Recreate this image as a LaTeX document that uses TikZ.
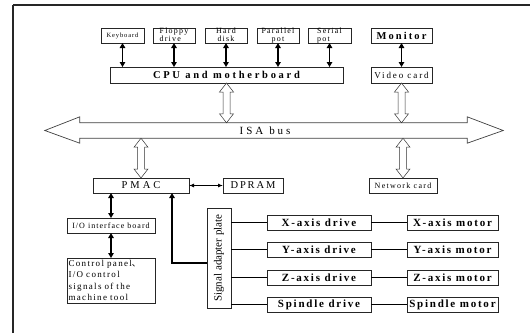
\documentclass[tikz,border=0pt]{standalone}
\usepackage{fontspec}
\setmainfont{Liberation Serif}
\newfontfamily\cjk{Noto Sans CJK SC}
\usetikzlibrary{arrows.meta,calc}
\newcommand\fs[3]{\fontsize{#1}{#2}\selectfont\addfontfeatures{LetterSpace=#3}}
\newcommand\twol[4]{\raisebox{#1}[0pt][0pt]{\begin{tabular}{@{}#2@{}}#3\\#4\end{tabular}}}
\newcommand\hollowarrow[2]{\draw[hollowline] let \p1=#1, \p2=#2 in
  (\x1,\y1) -- ++(-7pt,-9pt) -- ++(3.5pt,0pt) -- (\x1-3.5pt,\y2+9pt) -- ++(-3.5pt,0pt)
  -- (\x1,\y2) -- ++(7pt,9pt) -- ++(-3.5pt,0pt) -- (\x1+3.5pt,\y1-9pt) -- ++(3.5pt,0pt) -- cycle;}
\begin{document}
\begin{tikzpicture}[x=1pt,y=-1pt,
  box/.style={draw=black!85, line width=0.6pt, inner sep=0pt, outer sep=0pt, fill=white, anchor=north west},
  tarrow/.style={line width=1.6pt, black, {Triangle[length=5pt,width=5.5pt]}-{Triangle[length=5pt,width=5.5pt]}},
  thinarrow/.style={line width=0.9pt, black, {Latex[length=5pt,width=4pt]}-{Latex[length=5pt,width=4pt]}},
  hollowline/.style={draw=black!80, line width=0.5pt, fill=white},
  busline/.style={draw=black!75, line width=0.7pt, fill=white},
  dline/.style={line width=1.3pt, black},
  small/.style={font=\fs{8}{8.5}{15}},
  drv/.style={font=\bfseries\fs{11}{13}{16}}
]
\useasboundingbox (0,0) rectangle (530,333);
% frame
\draw[line width=1.3pt, black!85] (13,333) -- (13,5);
\draw[line width=1.8pt, black!85] (13,5) -- (530,5);

% top row
\node[box, minimum width=43, minimum height=15] (kb) at (101,28) {\fs{6.5}{7}{14}Keyboard};
\node[box, minimum width=42, minimum height=15, small] (fd) at (153,28) {\twol{-2.5pt}{l}{Floppy}{drive}};
\node[box, minimum width=42, minimum height=15, small] (hd) at (205,28) {\twol{-2.5pt}{c}{Hard}{disk}};
\node[box, minimum width=42, minimum height=15, small] (pp) at (257,28) {\twol{-2.5pt}{c}{Parallel}{pot}};
\node[box, minimum width=43, minimum height=15, small] (sp) at (308,28) {\twol{-2.5pt}{l}{Serial}{pot}};
\node[box, minimum width=61, minimum height=15] (mon) at (371,28) {\bfseries\fs{10.5}{12}{20}Monitor};

\node[box, minimum width=233, minimum height=16] (cpu) at (110,67) {\bfseries\fs{10.5}{12}{26}CPU and motherboard};
\node[box, minimum width=61, minimum height=16] (vc) at (371,67) {\fs{9}{11}{21}Video card};

% bus
\node[minimum width=387, minimum height=15, inner sep=0pt] (bus) at (273.5,130.5) {};
\draw[busline] ($(bus.west)+(-35,0)$) -- ($(bus.north west)+(0,-6)$) -- (bus.north west)
  -- (bus.north east) -- ($(bus.north east)+(0,-6)$) -- ($(bus.east)+(36,0)$)
  -- ($(bus.south east)+(0,5)$) -- (bus.south east) -- (bus.south west)
  -- ($(bus.south west)+(0,5)$) -- cycle;
\node[inner sep=0pt] (bustext) at (bus.center) {\fs{11}{13}{26}I\hspace{3pt}S\hspace{3pt}A\hspace{6pt}bus\hspace*{17pt}};

% middle row
\node[box, minimum width=96, minimum height=15] (pmac) at (93,178) {\fs{10.5}{12}{28}PMAC};
\node[box, minimum width=60, minimum height=15] (dpram) at (223,178) {\fs{10.5}{12}{18}DPRAM};
\node[box, minimum width=68, minimum height=15] (nc) at (369,178) {\fs{8}{9}{16}Network card};

\node[box, minimum width=88, minimum height=15] (io) at (67,218) {\fs{8}{9}{13}I/O interface board};
\node[box, minimum width=88, minimum height=45, text width=85, inner xsep=1.5pt, inner ysep=1pt, align=left, font=\fs{9}{11.5}{15}] (cp) at (67,258)
  {Control panel{\cjk 、}\\I/O control\\signals of the\\machine tool};

\node[box, minimum width=24, minimum height=100] (sap) at (207,208) {\rotatebox{90}{\fs{11}{13}{0}Signal adapter plate}};

% drives and motors
\node[box, minimum width=104, minimum height=15, drv] (xd) at (267,215) {X-axis drive};
\node[box, minimum width=104, minimum height=15, drv] (yd) at (267,242) {Y-axis drive};
\node[box, minimum width=104, minimum height=15, drv] (zd) at (267,270) {Z-axis drive};
\node[box, minimum width=104, minimum height=15, drv] (sd) at (267,297) {Spindle drive};
\node[box, minimum width=91, minimum height=15, drv] (xm) at (407,215) {X-axis motor};
\node[box, minimum width=91, minimum height=15, drv] (ym) at (407,242) {Y-axis motor};
\node[box, minimum width=91, minimum height=15, drv] (zm) at (407,270) {Z-axis motor};
\node[box, minimum width=91, minimum height=15, drv] (sm) at (407,297) {Spindle motor};

% arrows top
\draw[tarrow] (kb.south) -- (kb.south |- cpu.north);
\draw[tarrow] (fd.south) -- (fd.south |- cpu.north);
\draw[tarrow] (hd.south) -- (hd.south |- cpu.north);
\draw[tarrow] (pp.south) -- (pp.south |- cpu.north);
\draw[tarrow] (sp.south) -- (sp.south |- cpu.north);
\draw[tarrow] (mon.south) -- (vc.north);

% hollow arrows
\hollowarrow{(cpu.south)}{(cpu.south |- bus.north)}
\hollowarrow{(vc.south)}{(vc.south |- bus.north)}
\hollowarrow{(pmac.north |- bus.south)}{(pmac.north)}
\hollowarrow{(nc.north |- bus.south)}{(nc.north)}

% pmac connections
\draw[thinarrow] (pmac.east) -- (dpram.west);
\draw[tarrow] (io.north |- pmac.south) -- (io.north);
\draw[tarrow] (io.south) -- (cp.north);
\draw[line width=1.8pt, black, -{Triangle[length=5pt,width=5.5pt]}] ($(sap.west)+(0,5)$) -| ($(pmac.south)+(31,0)$);

% adapter to drives, drives to motors
\foreach \d/\m in {xd/xm, yd/ym, zd/zm, sd/sm}{
  \draw[dline] (sap.east |- \d.west) -- (\d.west);
  \draw[dline] (\d.east) -- (\m.west);
}
\end{tikzpicture}
\end{document}
